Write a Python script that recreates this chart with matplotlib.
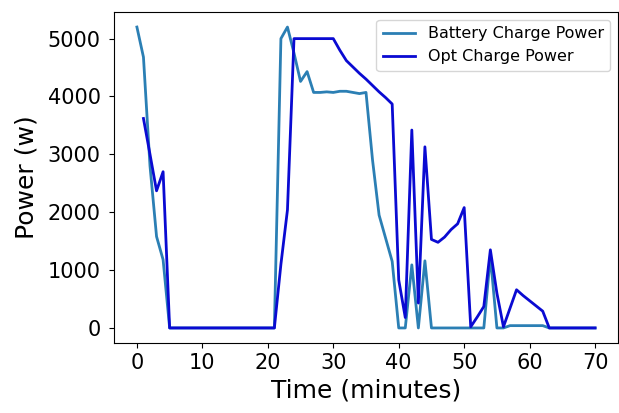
import numpy as np
import matplotlib
matplotlib.use("Agg")
import matplotlib.pyplot as plt

# Charging power per minute (W)
battery_time = list(range(0, 71))
battery_power = [
    5200, 4680, 2800, 1580, 1180, 0, 0, 0, 0, 0,
    0, 0, 0, 0, 0, 0, 0, 0, 0, 0,
    0, 0, 5000, 5200, 4750, 4260, 4430, 4070, 4070, 4080,
    4070, 4090, 4090, 4070, 4050, 4070, 2900, 1950, 1550, 1150,
    0, 0, 1090, 0, 1160, 0, 0, 0, 0, 0,
    0, 0, 0, 0, 1240, 0, 0, 40, 40, 40,
    40, 40, 40, 0, 0, 0, 0, 0, 0, 0,
    0,
]

opt_time = list(range(1, 71))
opt_power = [
    3620, 3000, 2370, 2700, 0, 0, 0, 0, 0,
    0, 0, 0, 0, 0, 0, 0, 0, 0, 0,
    0, 0, 1100, 2040, 5000, 5000, 5000, 5000, 5000, 5000,
    5000, 4800, 4620, 4510, 4400, 4300, 4190, 4080, 3980, 3870,
    830, 180, 3420, 430, 3130, 1530, 1480, 1570, 1700, 1800,
    2080, 20, 190, 370, 1350, 600, 20, 340, 660, 560,
    470, 380, 290, 0, 0, 0, 0, 0, 0, 0,
    0,
]

fig = plt.figure(figsize=(6.19, 4.13), dpi=100)
ax = fig.add_axes([114 / 619, 70 / 413, 504 / 619, 331 / 413])

ax.plot(battery_time, battery_power, color="#2b7fb4", linewidth=2,
        label="Battery Charge Power")
ax.plot(opt_time, opt_power, color="#0a0ad2", linewidth=2,
        label="Opt Charge Power")

ax.set_xlabel("Time (minutes)", fontsize=18)
ax.set_ylabel("Power (w)", fontsize=18, labelpad=7)
ax.tick_params(axis="both", labelsize=15)
ax.tick_params(axis="y", pad=6)
ax.set_xticks(range(0, 71, 10))
ax.set_yticks(range(0, 5001, 1000))
ax.legend(loc="upper right", fontsize=11.5)

fig.savefig("out.png", dpi=100)
